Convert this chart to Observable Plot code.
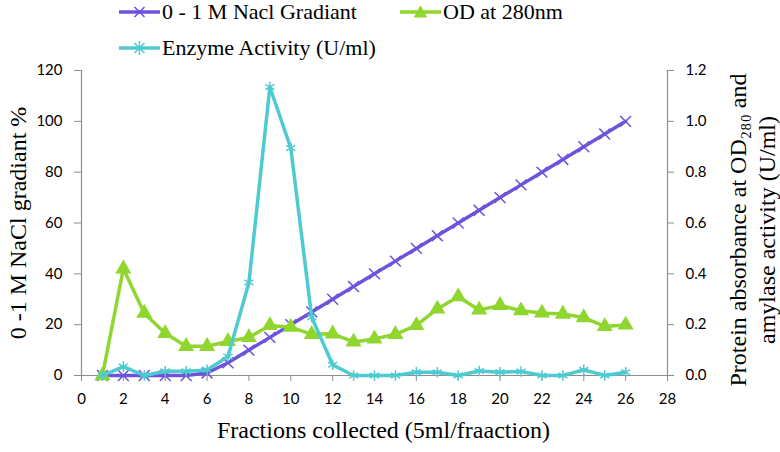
<!DOCTYPE html>
<html><head><meta charset="utf-8">
<script src="https://cdn.jsdelivr.net/npm/d3@7"></script>
<script src="https://cdn.jsdelivr.net/npm/@observablehq/plot@0.6"></script>
<style>
body{margin:0;background:#fff;}
#legend{position:relative;z-index:2;width:780px;height:40px;overflow:visible;font-family:"Liberation Serif",serif;font-size:22px;color:#000;}
.item{position:absolute;display:flex;align-items:center;height:24px;white-space:nowrap;}
.item svg{margin-right:2px;}
#chart{position:relative;z-index:1;}
</style></head><body>
<div id="legend"></div>
<div id="chart"></div>
<script>
// ---- data ----
const fractions = [1,2,3,4,5,6,7,8,9,10,11,12,13,14,15,16,17,18,19,20,21,22,23,24,25,26];
const naclGradient = [0,0,0,0,0,1,5,10,15,20,25,30,35,40,45,50,55,60,65,70,75,80,85,90,95,100];
const od280 = [0,0.42,0.245,0.166,0.115,0.115,0.134,0.15,0.197,0.19,0.162,0.164,0.132,0.144,0.162,0.197,0.262,0.31,0.258,0.276,0.255,0.246,0.242,0.228,0.193,0.199];
const enzymeActivity = [0,0.035,0,0.017,0.017,0.022,0.075,0.366,1.135,0.895,0.229,0.042,0,0,0,0.013,0.013,0,0.018,0.013,0.016,0,0,0.022,0,0.013];
const xTicks = [0,2,4,6,8,10,12,14,16,18,20,22,24,26,28];
const leftTicks = [0,20,40,60,80,100,120];
const rightTicks = [0,0.2,0.4,0.6,0.8,1.0,1.2];
const seriesNames = ["0 - 1 M Nacl Gradiant","OD at 280nm","Enzyme Activity (U/ml)"];
const xTitle = "Fractions collected (5ml/fraaction)";
const leftTitle = "0 -1 M NaCl gradiant %";
const rightTitle = "Protein absorbance at OD\u2082\u2088\u2080 and\namylase activity (U/ml)";

// ---- styles ----
const colors = ["#6f52dc","#8fd62e","#4ecbd0"];
const axisColor = "#8a8f8f";
const serif = "Liberation Serif";

// right-axis values mapped onto left scale (1.2 <-> 120)
const k = 100;
const rows = fractions.map((f,i)=>({f, nacl:naclGradient[i], od:od280[i]*k, enz:enzymeActivity[i]*k}));

// ---- legend ----
const legend = document.getElementById("legend");
const legendPos = [[119,0],[400,0],[119,36]];
const symbolPaths = [
  "M-5,-5L5,5M-5,5L5,-5",
  "M0,-6L6,5L-6,5Z",
  "M-5,-5L5,5M-5,5L5,-5M0,-7L0,7"
];
seriesNames.forEach((name,i)=>{
  const d = document.createElement("div");
  d.className="item";
  d.style.left = legendPos[i][0]+"px";
  d.style.top = legendPos[i][1]+"px";
  const filled = i===1;
  d.innerHTML = `<svg width="41" height="20"><line x1="0" x2="41" y1="10" y2="10" stroke="${colors[i]}" stroke-width="3.5"/><path transform="translate(20.5,10)" d="${symbolPaths[i]}" stroke="${colors[i]}" stroke-width="${filled?1:1.5}" fill="${filled?colors[i]:"none"}"/></svg><span>${name}</span>`;
  legend.appendChild(d);
});

// ---- chart ----
const chart = Plot.plot({
  width: 780, height: 412,
  marginLeft: 81, marginRight: 113, marginTop: 30, marginBottom: 77,
  x: {domain: [0,28]},
  y: {domain: [0,120]},
  style: {fontFamily: "Lato", fontSize: "15px", color: "#000", background: "transparent", overflow: "visible"},
  marks: [
    Plot.ruleX([0], {stroke: axisColor, strokeWidth: 1.2}),
    Plot.ruleX([28], {stroke: axisColor, strokeWidth: 1.2}),
    Plot.ruleY([0], {stroke: axisColor, strokeWidth: 1.2}),
    Plot.axisX({ticks: xTicks, tickSize: 6, tickPadding: 12, stroke: axisColor, fill: "#000", label: null, tickFormat: d=>String(d)}),
    Plot.axisY({anchor: "left", ticks: leftTicks, tickSize: 7, tickPadding: 12, stroke: axisColor, fill: "#000", label: null}),
    Plot.axisY({anchor: "right", ticks: rightTicks.map(v=>v*k), tickFormat: d=>(d/k).toFixed(1), tickSize: 6, tickPadding: 12, stroke: axisColor, fill: "#000", label: null}),
    Plot.line(rows, {x: "f", y: "nacl", stroke: colors[0], strokeWidth: 3.5}),
    Plot.dot(rows, {x: "f", y: "nacl", symbol: "times", r: 5, stroke: colors[0], strokeWidth: 1.5}),
    Plot.line(rows, {x: "f", y: "od", stroke: colors[1], strokeWidth: 3.5}),
    Plot.dot(rows, {x: "f", y: "od", symbol: "triangle", r: 5, fill: colors[1], stroke: colors[1]}),
    Plot.line(rows, {x: "f", y: "enz", stroke: colors[2], strokeWidth: 3.5}),
    Plot.dot(rows, {x: "f", y: "enz", symbol: "asterisk", r: 5, stroke: colors[2], strokeWidth: 1.5}),
    Plot.text([xTitle], {frameAnchor: "bottom", textAnchor: "middle", dx: 9, dy: 62, fontFamily: serif, fontSize: 24, fill: "#000"}),
    Plot.text([leftTitle], {frameAnchor: "left", textAnchor: "middle", rotate: -90, dx: -63, fontFamily: serif, fontSize: 24, fill: "#000"}),
    Plot.text([rightTitle], {frameAnchor: "right", textAnchor: "middle", lineAnchor: "middle", rotate: -90, dx: 84, dy: 7, lineHeight: 1.17, fontFamily: serif, fontSize: 24, fill: "#000"})
  ]
});
document.getElementById("chart").appendChild(chart);
</script>
</body></html>
